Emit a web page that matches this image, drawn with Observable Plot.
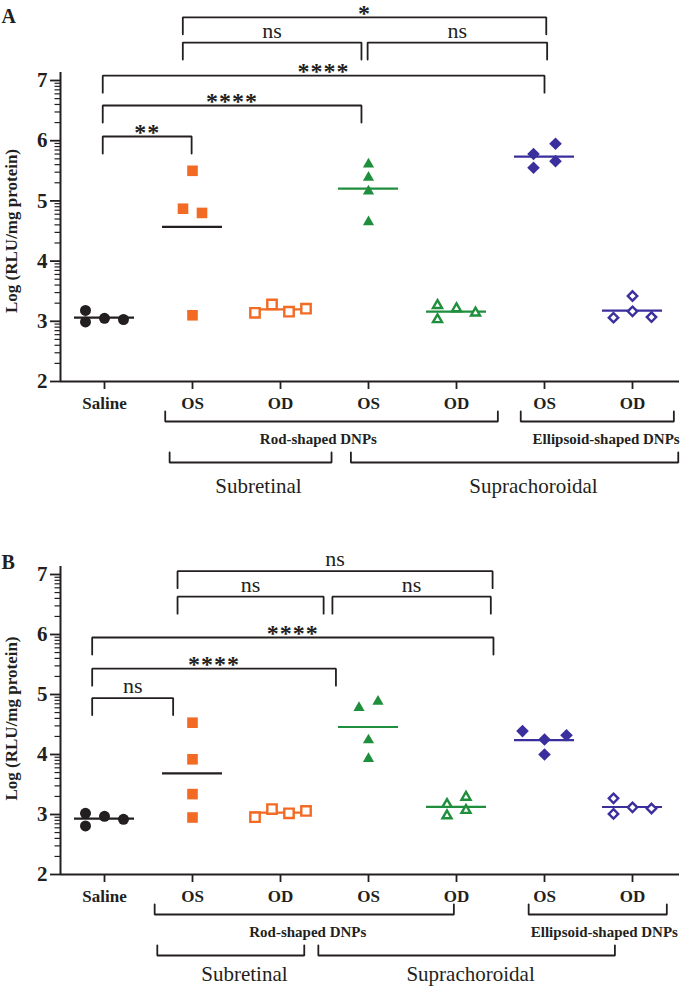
<!DOCTYPE html>
<html>
<head>
<meta charset="utf-8">
<script src="https://cdn.jsdelivr.net/npm/d3@7"></script>
<script src="https://cdn.jsdelivr.net/npm/@observablehq/plot@0.6"></script>
<style>
  body { margin: 0; background: #fff; }
  #chart { width: 682px; }
  #chart svg { display: block; overflow: visible; }
</style>
</head>
<body>
<div id="chart"></div>
<script>
// ---------- categories & labels ----------
const groupIds = ["Saline", "RodOS", "RodOD", "SupOS", "SupOD", "EllOS", "EllOD"];
const groupLabels = ["Saline", "OS", "OD", "OS", "OD", "OS", "OD"];
const yTicks = [2, 3, 4, 5, 6, 7];
const yLabel = "Log (RLU/mg protein)";

// ---------- panel A values (Log RLU/mg protein) ----------
const A_saline = [3.05, 3.03, 2.99, 3.18];
const A_rodOS  = [5.50, 4.87, 4.80, 3.10];
const A_rodOD  = [3.28, 3.16, 3.14, 3.21];
const A_supOS  = [5.61, 5.39, 5.16, 4.65];
const A_supOD  = [3.21, 3.14, 3.265, 3.03];
const A_ellOS  = [5.78, 5.66, 5.95, 5.55];
const A_ellOD  = [3.165, 3.07, 3.06, 3.42];

// ---------- panel B values ----------
const B_saline = [2.97, 2.92, 3.02, 2.81];
const B_rodOS  = [4.53, 3.92, 3.34, 2.95];
const B_rodOD  = [3.09, 3.02, 2.955, 3.06];
const B_supOS  = [4.78, 4.885, 4.24, 3.93];
const B_supOD  = [3.17, 3.07, 3.29, 2.98];
const B_ellOS  = [4.25, 4.32, 4.39, 4.00];
const B_ellOD  = [3.12, 3.10, 3.27, 3.01];

// ---------- significance brackets (x in group-index units, y in axis units) ----------
const A_compX1 = [-0.02, -0.02, -0.02, 0.89, 2.99, 0.89];
const A_compX2 = [0.99, 2.92, 5.00, 2.92, 5.03, 5.02];
const A_compY  = [6.07, 6.585, 7.08, 7.63, 7.63, 8.05];
const A_compLabel = ["**", "****", "****", "ns", "ns", "*"];

const B_compX1 = [-0.14, -0.14, -0.14, 0.83, 2.59, 0.83];
const B_compX2 = [0.78, 2.63, 4.42, 2.49, 4.39, 4.41];
const B_compY  = [4.94, 5.43, 5.95, 6.63, 6.63, 7.055];
const B_compLabel = ["ns", "****", "****", "ns", "ns", "ns"];

// ---------- group brackets under the axis ----------
const groupBracketLabel = ["Rod-shaped DNPs", "Ellipsoid-shaped DNPs", "Subretinal", "Suprachoroidal"];
const groupBracketRow = [1, 1, 2, 2];
const A_grpX1 = [0.69, 4.73, 0.74, 2.80];
const A_grpX2 = [4.47, 6.47, 2.58, 6.52];
const A_grpLX = [2.43, 5.70, 1.75, 4.875];
const B_grpX1 = [0.57, 4.82, 0.60, 2.43];
const B_grpX2 = [3.97, 6.39, 2.27, 5.80];
const B_grpLX = [2.31, 5.68, 1.59, 4.16];

// ---------- styles ----------
const INK = "#231f20", ORANGE = "#f26a23", GREEN = "#1f8e3d", BLUE = "#3b2f9e";
const FONT = "'Liberation Serif', 'Times New Roman', Times, serif";
const rOf = size => Math.sqrt(size / Math.PI);
const symSquare = {draw(ctx, size) { const r = rOf(size); ctx.moveTo(-r, -r); ctx.lineTo(r, -r); ctx.lineTo(r, r); ctx.lineTo(-r, r); ctx.closePath(); }};
const symDiamond = {draw(ctx, size) { const r = rOf(size); ctx.moveTo(0, -r); ctx.lineTo(r, 0); ctx.lineTo(0, r); ctx.lineTo(-r, 0); ctx.closePath(); }};
const symTriangle = {draw(ctx, size) { const r = rOf(size), h = r * Math.sqrt(3); ctx.moveTo(0, -2 * h / 3); ctx.lineTo(r, h / 3); ctx.lineTo(-r, h / 3); ctx.closePath(); }};
const style = {
  Saline: {color: INK,    mean: INK,    symbol: "circle",    filled: true,  r: 5.5, sp: 19},
  RodOS:  {color: ORANGE, mean: INK,    symbol: symSquare,   filled: true,  r: 5.3, sp: 19},
  RodOD:  {color: ORANGE, mean: ORANGE, symbol: symSquare,   filled: false, r: 4.7, sp: 17},
  SupOS:  {color: GREEN,  mean: GREEN,  symbol: symTriangle, filled: true,  r: 5.6, sp: 19},
  SupOD:  {color: GREEN,  mean: GREEN,  symbol: symTriangle, filled: false, r: 4.5, sp: 19},
  EllOS:  {color: BLUE,   mean: BLUE,   symbol: symDiamond,  filled: true,  r: 6.3, sp: 22},
  EllOD:  {color: BLUE,   mean: BLUE,   symbol: symDiamond,  filled: false, r: 4.7, sp: 19}
};

// GraphPad-like horizontal spreading of overlapping points
function dodge(values, T) {
  const n = values.length;
  const order = d3.range(n).sort((a, b) => values[a] - values[b]);
  const cluster = new Array(n);
  let c = 0;
  order.forEach((k, j) => { if (j > 0 && values[k] - values[order[j - 1]] >= T) c++; cluster[k] = c; });
  const slot = new Array(n);
  const cand = [0, 1, -1, 2, -2, 3, -3];
  for (let k = 0; k < n; k++) {
    for (const s of cand) {
      const ok = d3.range(k).every(j => cluster[j] !== cluster[k] || slot[j] !== s || Math.abs(values[j] - values[k]) >= T);
      if (ok) { slot[k] = s; break; }
    }
  }
  for (let cl = 0; cl <= c; cl++) {
    const mem = d3.range(n).filter(k => cluster[k] === cl);
    const shift = (d3.min(mem, k => slot[k]) + d3.max(mem, k => slot[k])) / 2;
    mem.forEach(k => slot[k] -= shift);
  }
  return slot;
}

function drawPanel(p) {
  const W = 682, mL = 60, mR = 6;
  const pxX = (W - mL - mR) / 7;
  const pxY = (p.height - p.marginTop - p.marginBottom) / 5;
  const ux = px => px / pxX, uy = px => px / pxY;

  const points = [], means = [];
  groupIds.forEach((g, i) => {
    const vals = p.values[i], st = style[g];
    const slots = dodge(vals, 0.185);
    vals.forEach((v, k) => points.push({g, i, x: i + slots[k] * ux(st.sp), y: v}));
    means.push({g, i, y: d3.mean(vals)});
  });

  const comps = p.compLabel.map((label, j) => ({label, x1: p.compX1[j], x2: p.compX2[j], y: p.compY[j]}));
  const legTop = uy(17);
  const topPaths = comps.flatMap((b, j) => [[b.x1, b.y - legTop], [b.x1, b.y], [b.x2, b.y], [b.x2, b.y - legTop]].map(([x, y]) => ({id: "t" + j, x, y})));

  const rowBar = {1: 40, 2: 81}, rowLabel = {1: 57.5, 2: p.row2Label};
  const grps = groupBracketLabel.map((label, j) => ({label, row: groupBracketRow[j], x1: p.grpX1[j], x2: p.grpX2[j], lx: p.grpLX[j]}));
  const botPaths = grps.flatMap((b, j) => {
    const yb = 2 - uy(rowBar[b.row]), yl = yb + uy(10);
    return [[b.x1, yl], [b.x1, yb], [b.x2, yb], [b.x2, yl]].map(([x, y]) => ({id: "b" + j, x, y}));
  });

  const minor = d3.range(2, 7).flatMap(d => d3.range(2, 10).map(k => d + Math.log10(k)));
  const txt = {fill: INK, fontFamily: FONT};

  const marks = [
    // axes
    Plot.ruleY([2], {y: d => d, x1: () => -0.5, x2: () => 6.5 + ux(3), stroke: INK, strokeWidth: 2}),
    Plot.ruleX([-0.5], {x: d => d, y1: () => 2, y2: () => 7 + uy(8), stroke: INK, strokeWidth: 2}),
    Plot.ruleY(yTicks, {y: d => d, x1: () => -0.5 - ux(10), x2: () => -0.5, stroke: INK, strokeWidth: 1.8}),
    Plot.ruleY(minor, {y: d => d, x1: () => -0.5 - ux(5.5), x2: () => -0.5, stroke: INK, strokeWidth: 1.2}),
    Plot.text(yTicks, {x: () => -0.5, y: d => d, text: d => String(d), dx: -13, textAnchor: "end", fontSize: 21, fontWeight: "bold", ...txt}),
    Plot.ruleX(d3.range(7), {x: d => d, y1: () => 2, y2: () => 2 - uy(8), stroke: INK, strokeWidth: 1.8}),
    Plot.text(d3.range(7), {x: d => d, y: () => 2, dy: 22, text: i => groupLabels[i], fontSize: 17, fontWeight: "bold", ...txt}),
    Plot.text([yLabel], {frameAnchor: "left", textAnchor: "middle", dx: -49, dy: p.yLabelDy, rotate: -90, fontSize: 17, fontWeight: "bold", ...txt}),
    Plot.text([p.letter], {frameAnchor: "top-left", dx: -59, dy: p.letterDy, textAnchor: "start", fontSize: 20, fontWeight: "bold", ...txt}),
    // brackets
    Plot.line(topPaths, {x: "x", y: "y", z: "id", stroke: INK, strokeWidth: 1.8, strokeLinejoin: "miter"}),
    Plot.text(comps.filter(b => b.label !== "ns"), {x: b => (b.x1 + b.x2) / 2, y: "y", text: "label", dy: -4, fontSize: 24, fontWeight: "bold", ...txt}),
    Plot.text(comps.filter(b => b.label === "ns"), {x: b => (b.x1 + b.x2) / 2, y: "y", text: "label", dy: -12, fontSize: 22, ...txt}),
    Plot.line(botPaths, {x: "x", y: "y", z: "id", stroke: INK, strokeWidth: 1.8, strokeLinejoin: "miter"}),
    Plot.text(grps.filter(b => b.row === 1), {x: "lx", y: () => 2 - uy(rowLabel[1]), text: "label", fontSize: 15, fontWeight: "bold", ...txt}),
    Plot.text(grps.filter(b => b.row === 2), {x: "lx", y: () => 2 - uy(rowLabel[2]), text: "label", fontSize: 21, ...txt})
  ];
  groupIds.forEach(g => {
    const st = style[g];
    marks.push(Plot.ruleY(means.filter(m => m.g === g), {y: "y", x1: d => d.i - ux(30), x2: d => d.i + ux(30), stroke: st.mean, strokeWidth: 2.2}));
  });
  groupIds.forEach(g => {
    const st = style[g];
    marks.push(Plot.dot(points.filter(d => d.g === g), {
      x: "x", y: "y", r: st.r, symbol: st.symbol,
      fill: st.filled ? st.color : "white",
      stroke: st.filled ? "none" : st.color,
      strokeWidth: st.filled ? 0 : 2.4
    }));
  });

  const svg = Plot.plot({
    width: W, height: p.height,
    marginLeft: mL, marginRight: mR, marginTop: p.marginTop, marginBottom: p.marginBottom,
    x: {domain: [-0.5, 6.5], axis: null},
    y: {domain: [2, 7], axis: null},
    style: {fontFamily: FONT, background: "white", overflow: "visible"},
    marks
  });
  d3.select(svg).selectAll("text").filter(function() { return /^\*+$/.test(this.textContent); }).attr("letter-spacing", "1px");
  return svg;
}

const chart = document.getElementById("chart");
chart.appendChild(drawPanel({
  letter: "A", letterDy: -72, yLabelDy: 0, row2Label: 105,
  height: 498, marginTop: 80, marginBottom: 117,
  values: [A_saline, A_rodOS, A_rodOD, A_supOS, A_supOD, A_ellOS, A_ellOD],
  compX1: A_compX1, compX2: A_compX2, compY: A_compY, compLabel: A_compLabel,
  grpX1: A_grpX1, grpX2: A_grpX2, grpLX: A_grpLX
}));
chart.appendChild(drawPanel({
  letter: "B", letterDy: -20, yLabelDy: -6, row2Label: 100,
  height: 491, marginTop: 76, marginBottom: 115,
  values: [B_saline, B_rodOS, B_rodOD, B_supOS, B_supOD, B_ellOS, B_ellOD],
  compX1: B_compX1, compX2: B_compX2, compY: B_compY, compLabel: B_compLabel,
  grpX1: B_grpX1, grpX2: B_grpX2, grpLX: B_grpLX
}));
</script>
</body>
</html>
